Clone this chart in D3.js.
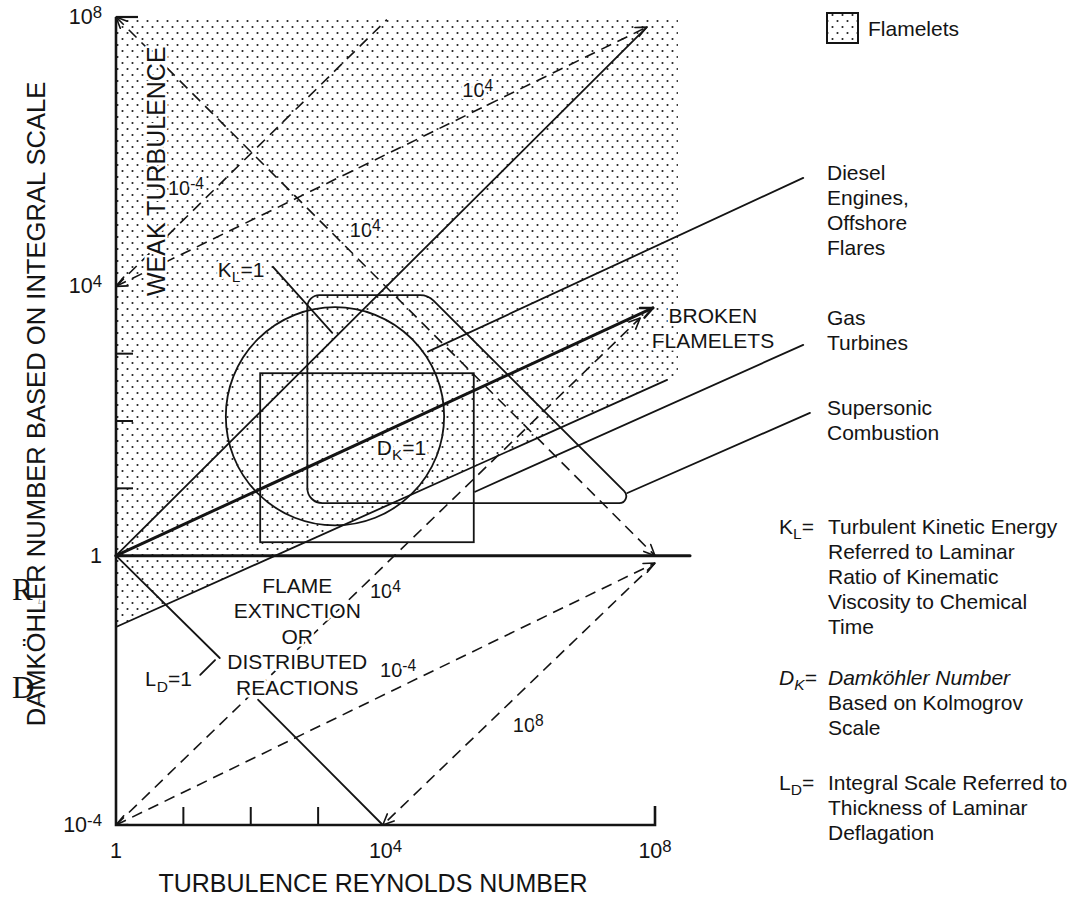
<!DOCTYPE html>
<html><head><meta charset="utf-8">
<script src="https://cdn.jsdelivr.net/npm/d3@7"></script>
<style>
html,body{margin:0;padding:0;background:#fff;}
svg{display:block;background:#fff;}
text{font-family:"Liberation Sans",Arial,Helvetica,sans-serif;fill:#141414;}
.halo{stroke:#fff;stroke-width:5px;stroke-linejoin:round;paint-order:stroke;}
</style></head><body>
<svg id="chart" width="1075" height="897"></svg>
<script>
// ---- Axis ticks ----
const xTickValues = [1, 1e4, 1e8];
const xTickLabels = [["1", ""], ["10", "4"], ["10", "8"]];
const xMinorTicks = [10, 100, 1000];
const yTickValues = [1e-4, 1, 1e4, 1e8];
const yTickLabels = [["10", "-4"], ["1", ""], ["10", "4"], ["10", "8"]];
const yMinorTicks = [10, 100, 1000];

// ---- Regime boundaries, as [log10 Re, log10 Da] ----
const flameletRegion   = [[0, 8], [8.34, 8], [8.34, 2.69], [0, -1.06]];
const flameletLimit    = [[0, -1.06], [8.18, 2.61]];
const integralDiagonal = [[0, 0], [7.88, 7.85]];
const kolmogorovLine   = [[0, 0], [7.97, 3.68]];
const unityDamkohler   = [[0, 0], [8.52, 0]];
const thicknessLine    = [[[0, 0], [1.54, -1.52]], [[2.11, -2.14], [3.96, -4]]];

// ---- Lines of constant ratio (dashed) and their values ----
const ratioLines = [
  [[0, 8], [8, 0]],
  [[0, 4], [4.02, 7.96]],
  [[0, 4], [7.88, 7.85]],
  [[0, -4], [8, -0.11]],
  [[0, -4], [7.78, 3.53]],
  [[8, -0.11], [3.96, -4]]
];
const ratioArrowEnds = [["start", "end"], [], ["start", "end"], ["start", "end"], ["end"], ["end"]];
const ratioLabels = [["10", "4"], ["10", "-4"], ["10", "4"], ["10", "-4"], ["10", "4"], ["10", "8"]];
const ratioLabelAt = [[3.47, 4.73], [0.77, 5.36], [5.14, 6.81], [3.92, -1.80], [3.77, -0.63], [5.89, -2.62]];

// ---- Operating zones of practical devices ----
const dieselZone = { center: [3.25, 2.07], radius: 1.62 };
const gasTurbineZone = [[2.14, 0.20], [5.31, 2.71]];
const supersonicZone = [[2.84, 3.87], [4.63, 3.87], [7.72, 0.78], [2.84, 0.78]];
const deviceNames = [["Diesel", "Engines,", "Offshore", "Flares"], ["Gas", "Turbines"], ["Supersonic", "Combustion"]];
const deviceLeaders = [
  [[4.63, 3.03], [10.2, 5.61]],
  [[5.33, 0.95], [10.2, 3.13]],
  [[7.59, 0.93], [10.3, 2.12]]
];

// ---- Scales ----
const svg = d3.select("#chart");
const x = d3.scaleLog().domain([1, 1e8]).range([116, 655]);
const y = d3.scaleLog().domain([1e-4, 1e8]).range([825, 17]);
const X = d => x(Math.pow(10, d));
const Y = d => y(Math.pow(10, d));
const P = p => [X(p[0]), Y(p[1])];
const line = d3.line();
const INK = "#141414";

// stipple used for the flamelet regime
const defs = svg.append("defs");
const pat = defs.append("pattern").attr("id", "stipple")
  .attr("patternUnits", "userSpaceOnUse").attr("width", 10).attr("height", 12);
pat.append("circle").attr("cx", 2.5).attr("cy", 3).attr("r", 1.05).attr("fill", "#1a1a1a");
pat.append("circle").attr("cx", 7.5).attr("cy", 9).attr("r", 1.05).attr("fill", "#1a1a1a");

svg.append("path").attr("d", line(flameletRegion.map(P)) + "Z")
  .attr("fill", "url(#stipple)").attr("stroke", "none");

// ---- helpers ----
function solid(pts, w) {
  return svg.append("path").attr("d", line(pts.map(P)))
    .attr("fill", "none").attr("stroke", INK).attr("stroke-width", w)
    .attr("stroke-linecap", "round").attr("stroke-linejoin", "round");
}
function arrowHead(tip, from, len, w) {
  const a = Math.atan2(tip[1] - from[1], tip[0] - from[0]);
  const s = 0.42;
  const p1 = [tip[0] - len * Math.cos(a - s), tip[1] - len * Math.sin(a - s)];
  const p2 = [tip[0] - len * Math.cos(a + s), tip[1] - len * Math.sin(a + s)];
  svg.append("path").attr("d", `M${p1}L${tip}L${p2}`)
    .attr("fill", "none").attr("stroke", INK).attr("stroke-width", w)
    .attr("stroke-linecap", "round").attr("stroke-linejoin", "round");
}
// text with superscript / subscript pieces
function rich(parent, parts, px, py, opt = {}) {
  const size = opt.size || 20;
  const t = parent.append("text").attr("x", px).attr("y", py).style("font-size", size + "px");
  if (opt.anchor) t.attr("text-anchor", opt.anchor);
  if (opt.cls) t.attr("class", opt.cls);
  if (opt.italic) t.style("font-style", "italic");
  let shift = 0;
  parts.forEach(([str, kind]) => {
    if (!str) return;
    const target = kind === "sup" ? -0.3 * size : kind === "sub" ? 0.26 * size : 0;
    const fs = kind === "sup" ? size * 0.78 : kind === "sub" ? size * 0.74 : size;
    t.append("tspan").text(str).attr("dy", target - shift).style("font-size", fs + "px");
    shift = target;
  });
  return t;
}

// ---- Solid regime lines ----
solid(flameletLimit, 1.8);
solid(integralDiagonal, 1.8);
solid(unityDamkohler, 3);
solid(kolmogorovLine, 3);
arrowHead(P(kolmogorovLine[1]), P(kolmogorovLine[0]), 13, 2.4);
thicknessLine.forEach(seg => solid(seg, 1.8));

// ---- Device zones ----
const c0 = P(dieselZone.center);
const rPx = X(dieselZone.center[0] + dieselZone.radius) - X(dieselZone.center[0]);
svg.append("circle").attr("cx", c0[0]).attr("cy", c0[1]).attr("r", rPx)
  .attr("fill", "none").attr("stroke", INK).attr("stroke-width", 1.8);

const g0 = P(gasTurbineZone[0]), g1 = P(gasTurbineZone[1]);
svg.append("rect").attr("x", g0[0]).attr("y", g1[1])
  .attr("width", g1[0] - g0[0]).attr("height", g0[1] - g1[1])
  .attr("fill", "none").attr("stroke", INK).attr("stroke-width", 1.8);

function roundedPoly(pts, radii) {
  const p = d3.path(), n = pts.length;
  p.moveTo((pts[n - 1][0] + pts[0][0]) / 2, (pts[n - 1][1] + pts[0][1]) / 2);
  for (let i = 0; i < n; i++) {
    const a = pts[i], b = pts[(i + 1) % n];
    p.arcTo(a[0], a[1], b[0], b[1], radii[i]);
  }
  p.closePath();
  return p.toString();
}
svg.append("path").attr("d", roundedPoly(supersonicZone.map(P), [12, 19, 7, 15]))
  .attr("fill", "none").attr("stroke", INK).attr("stroke-width", 1.8);

deviceLeaders.forEach(seg => solid(seg, 1.8));

// ---- Dashed lines of constant ratio ----
ratioLines.forEach((seg, i) => {
  const pts = seg.map(P);
  svg.append("path").attr("d", line(pts)).attr("fill", "none")
    .attr("stroke", INK).attr("stroke-width", 1.6).attr("stroke-dasharray", "11,7");
  ratioArrowEnds[i].forEach(e => {
    if (e === "end") arrowHead(pts[1], pts[0], 12, 1.6);
    else arrowHead(pts[0], pts[1], 12, 1.6);
  });
});

// ---- Axes ----
const axisG = svg.append("g");
axisG.append("path").attr("d", `M${x(1)},${y(1e8)}V${y(1e-4)}H${x(1e8)}V${y(1e-4) - 19}`)
  .attr("fill", "none").attr("stroke", INK).attr("stroke-width", 2.6);
axisG.append("path").attr("d", `M${x(1)},${y(1e8)}h22`).attr("stroke", INK).attr("stroke-width", 2.2);
xMinorTicks.forEach(v => axisG.append("line")
  .attr("x1", x(v)).attr("x2", x(v)).attr("y1", y(1e-4)).attr("y2", y(1e-4) - 18)
  .attr("stroke", INK).attr("stroke-width", 2));
yMinorTicks.forEach(v => axisG.append("line")
  .attr("x1", x(1)).attr("x2", x(1) + 17).attr("y1", y(v)).attr("y2", y(v))
  .attr("stroke", INK).attr("stroke-width", 2));

xTickValues.forEach((v, i) => rich(axisG, [[xTickLabels[i][0]], [xTickLabels[i][1], "sup"]],
  x(v), 858, { size: 21.5, anchor: "middle" }));
yTickValues.forEach((v, i) => rich(axisG, [[yTickLabels[i][0]], [yTickLabels[i][1], "sup"]],
  102, y(v) + 7, { size: 21.5, anchor: "end" }));

axisG.append("text").attr("x", 373).attr("y", 892).attr("text-anchor", "middle")
  .style("font-size", "25px").text("TURBULENCE REYNOLDS NUMBER");
axisG.append("text").attr("transform", "translate(45,404) rotate(-90)").attr("text-anchor", "middle")
  .style("font-size", "25.6px").text("DAMKÖHLER NUMBER BASED ON INTEGRAL SCALE");

// symbols placed beside the vertical title
svg.append("text").attr("x", 12).attr("y", 600).style("font-family", "'Liberation Serif',serif")
  .style("font-size", "31px").text("R");
svg.append("text").attr("x", 38).attr("y", 604).style("font-size", "8px").style("font-style", "italic")
  .style("fill", "#999").text("L");
svg.append("text").attr("x", 12).attr("y", 698).style("font-family", "'Liberation Serif',serif")
  .style("font-size", "31px").text("D");
svg.append("text").attr("x", 38).attr("y", 702).style("font-size", "8px").style("font-style", "italic")
  .style("fill", "#999").text("L");

// ---- In-plot labels ----
const lab = svg.append("g");
ratioLabels.forEach((l, i) => {
  const p = P(ratioLabelAt[i]);
  rich(lab, [[l[0]], [l[1], "sup"]], p[0], p[1], { size: 20, cls: "halo" });
});
let p;
p = P([1.51, 4.14]); rich(lab, [["K"], ["L", "sub"], ["=1"]], p[0], p[1], { size: 21, cls: "halo" });
p = P([3.87, 1.50]); rich(lab, [["D"], ["K", "sub"], ["=1"]], p[0], p[1], { size: 21, cls: "halo" });
p = P([0.43, -1.94]); rich(lab, [["L"], ["D", "sub"], ["=1"]], p[0], p[1], { size: 21, cls: "halo" });
solid([[2.33, 4.29], [3.21, 3.31]], 1.8);
solid([[1.25, -1.77], [1.47, -1.55]], 1.8);

p = P([0.73, 5.71]);
lab.append("text").attr("class", "halo").attr("transform", `translate(${p[0]},${p[1]}) rotate(-90)`)
  .attr("text-anchor", "middle").style("font-size", "25px").text("WEAK TURBULENCE");

p = P([8.86, 3.46]);
["BROKEN", "FLAMELETS"].forEach((s, i) => lab.append("text").attr("class", "halo")
  .attr("x", p[0]).attr("y", p[1] + i * 25).attr("text-anchor", "middle")
  .style("font-size", "21px").text(s));

p = P([2.69, -0.55]);
["FLAME", "EXTINCTION", "OR", "DISTRIBUTED", "REACTIONS"].forEach((s, i) => lab.append("text")
  .attr("class", "halo").attr("x", p[0]).attr("y", p[1] + i * 25.5).attr("text-anchor", "middle")
  .style("font-size", "21px").text(s));

// ---- Right-hand annotations ----
const side = svg.append("g");
side.append("rect").attr("x", 827).attr("y", 13).attr("width", 31).attr("height", 30)
  .attr("fill", "url(#stipple)").attr("stroke", INK).attr("stroke-width", 2);
side.append("text").attr("x", 868).attr("y", 36).style("font-size", "21px").text("Flamelets");

const deviceBaselines = [180, 325, 415];
deviceNames.forEach((lines, i) => lines.forEach((s, j) => side.append("text")
  .attr("x", 827).attr("y", deviceBaselines[i] + j * 25).style("font-size", "21px").text(s)));

const defsText = [
  { sym: ["K", "L"], italic: false, y0: 534,
    lines: ["Turbulent Kinetic Energy", "Referred to Laminar", "Ratio of Kinematic", "Viscosity to Chemical", "Time"], firstItalic: false },
  { sym: ["D", "K"], italic: true, y0: 685,
    lines: ["Damköhler Number", "Based on Kolmogrov", "Scale"], firstItalic: true },
  { sym: ["L", "D"], italic: false, y0: 790,
    lines: ["Integral Scale Referred to", "Thickness of Laminar", "Deflagation"], firstItalic: false }
];
defsText.forEach(d => {
  rich(side, [[d.sym[0]], [d.sym[1], "sub"], ["="]], 779, d.y0, { size: 21, italic: d.italic });
  d.lines.forEach((s, j) => {
    const tt = side.append("text").attr("x", 828).attr("y", d.y0 + j * 25).style("font-size", "21px").text(s);
    if (j === 0 && d.firstItalic) tt.style("font-style", "italic");
  });
});
</script></body></html>
